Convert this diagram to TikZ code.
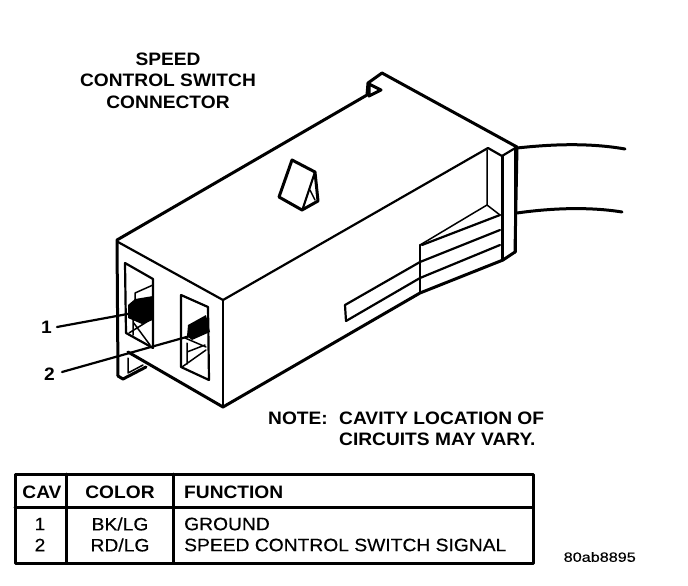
\documentclass[tikz,border=0pt]{standalone}
\usepackage{fontspec}
\setmainfont{Liberation Sans}[FakeStretch=1.065]
\newfontfamily\cellfont{Liberation Sans}[FakeStretch=1.07,FakeBold=0.4]
\newfontfamily\codefont{Liberation Sans}[FakeStretch=1.2,FakeBold=0.4]
\tikzset{
  heavy/.style={line width=3pt,line join=round,line cap=round},
  medium/.style={line width=2.2pt,line join=round,line cap=round},
  thin line/.style={line width=1.5pt,line join=round,line cap=round},
  title/.style={font=\fontsize{18}{22}\selectfont\bfseries,inner sep=0pt},
  cell/.style={font=\fontsize{18}{22}\cellfont,inner sep=0pt},
  headcell/.style={font=\fontsize{18}{22}\selectfont\bfseries,inner sep=0pt}
}
\begin{document}
\begin{tikzpicture}[x=1pt,y=-1pt]
\useasboundingbox (0,0) rectangle (688,586);
% body
\draw[heavy] (118,376) -- (117,240) -- (367,95) -- (368,83) -- (382,73) -- (517,147) -- (515,252) -- (503,260) -- (420,293) -- (223,407) -- (128,352);
\draw[heavy] (369,84) -- (369,96) -- (381,90) -- cycle;
\draw[medium] (118,242) -- (223,300) -- (488,148) -- (502,156) -- (517,147);
\draw[medium] (223,300) -- (223,407);
% tab
\draw[heavy] (118,376) -- (123,379) -- (146,367);
\draw[thin line] (128,358) -- (128,373) -- (143,365);
% rear recess
\draw[thin line] (487,150) -- (487,205) -- (500,215);
\draw[heavy] (502,156) -- (502,260);
\draw[heavy] (515,148) -- (515,252);
\draw[thin line] (487,205) -- (420,245);
\draw[medium] (420,245) -- (420,293);
\draw[medium] (500,215) -- (422,245);
\draw[medium] (500,230) -- (420,262) -- (345,305) -- (346,321) -- (420,278) -- (500,245);
% wires
\draw[heavy] (517,148) .. controls (545,145) and (585,142) .. (625,149);
\draw[heavy] (517,213) .. controls (545,209) and (585,206) .. (622,212);
% latch
\draw[heavy] (292,160) -- (315,172) -- (318,201) -- (302,210) -- (279,197) -- cycle;
\draw[medium] (315,172) -- (303,208);
\draw[thin line] (310,190) -- (315,200);
% cavity 1
\draw[medium] (125,263) -- (153,279) -- (153,348) -- (126,333) -- cycle;
\draw[thin line] (135,293) -- (153,285) (129,333) -- (153,318) (135,293) -- (135,310) (133,320) -- (133,335) (133,322) -- (150,345);
\fill (135,299) -- (153,296) -- (153,320) -- (142,324) -- (128,318) -- (128,305) -- cycle;
% cavity 2
\draw[medium] (181,295) -- (208,307) -- (209,380) -- (181,367) -- cycle;
\fill (188,325) -- (206,315) -- (210,332) -- (192,340) -- (187,336) -- cycle;
\draw[thin line] (185,338) -- (206,347) (187,343) -- (187,364) (182,367) -- (206,350) (187,352) -- (205,345);
% leaders
\node[title,anchor=east] (n1) at (52,327) {1};
\node[title,anchor=east] (n2) at (55,374) {2};
\coordinate (t1) at (133,313);
\coordinate (t2) at (190,336);
\draw[medium] (n1.east)++(5,0) -- (t1);
\draw[medium] (n2.east)++(7,-2) -- (t2);
% texts
\node[title] (tA) at (168,59) {SPEED};
\node[title] (tB) at (168,80) {CONTROL SWITCH};
\node[title] (tC) at (168,102) {CONNECTOR};
\node[title,anchor=west] (nA) at (268,418) {NOTE:};
\node[title,anchor=west] (nB) at (339,418) {CAVITY LOCATION OF};
\node[title,anchor=west] (nC) at (339,439) {CIRCUITS MAY VARY.};
% table
\draw[heavy] (15,474) rectangle (533,563);
\draw[heavy] (15,507) -- (533,507);
\draw[heavy] (66,474) -- (66,563);
\draw[heavy] (173,474) -- (173,563);
\node[headcell] (h1) at (42,492) {CAV};
\node[headcell] (h2) at (120,492) {COLOR};
\node[headcell,anchor=west] (h3) at (184,492) {FUNCTION};
\node[cell] (c11) at (40,524) {1};
\node[cell] (c12) at (120,524) {BK/LG};
\node[cell,anchor=west] (c13) at (184,524) {GROUND};
\node[cell] (c21) at (40,545) {2};
\node[cell] (c22) at (120,545) {RD/LG};
\node[cell,anchor=west] (c23) at (184,545) {SPEED CONTROL SWITCH SIGNAL};
\node[inner sep=0pt,font=\fontsize{13.5}{15}\codefont,anchor=east] (code) at (636,557) {80ab8895};
\end{tikzpicture}
\end{document}
